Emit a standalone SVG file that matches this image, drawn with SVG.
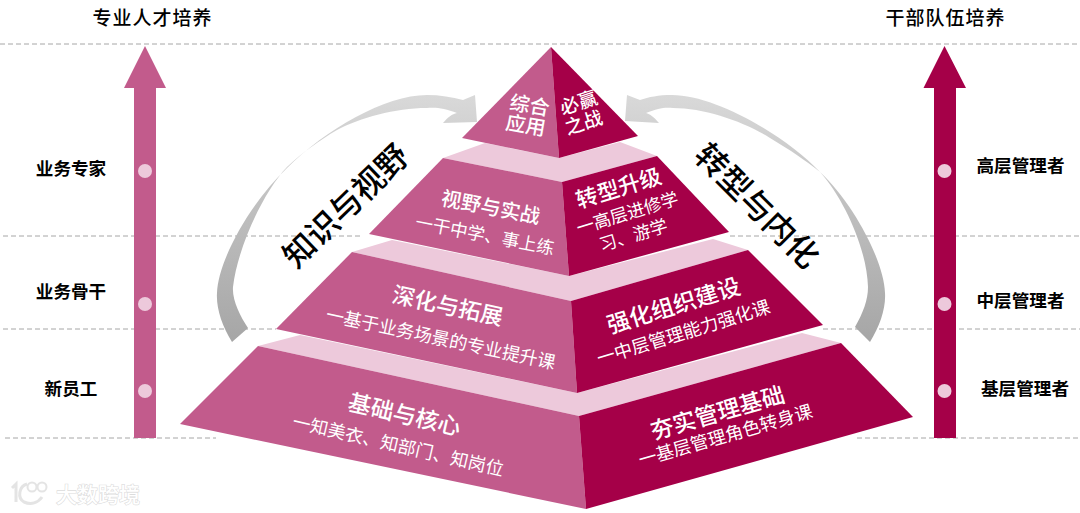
<svg xmlns="http://www.w3.org/2000/svg" width="1080" height="513" viewBox="0 0 1080 513">
<style>
text{font-family:"Noto Sans CJK SC","Liberation Sans",sans-serif;text-anchor:middle;dominant-baseline:central}
.dash{stroke:#a6a6a6;stroke-width:1;stroke-dasharray:5 3;fill:none}
.lf{fill:#c25b8c}.rf{fill:#a50048}.band{fill:#edc9db}.dot{fill:#edc9db}
.w{fill:#fff}.t1{font-size:19px;font-weight:500}.sub{font-size:17.6px}.sub2{font-size:18px}
.k{fill:#000}.head{font-size:19px;font-weight:500;letter-spacing:1px}.side{font-size:17.6px;font-weight:700}
.big{font-size:32px;fill:#000;font-weight:500}
.wm{font-size:21px;font-weight:500;fill:#fff;stroke:#dcdcdc;stroke-width:1.2;paint-order:stroke}
</style>
<defs>
<linearGradient id="gr" x1="0" y1="1" x2="0" y2="0"><stop offset="0" stop-color="#a6a6a6"/><stop offset=".5" stop-color="#bdbdbd"/><stop offset="1" stop-color="#d9d9d9"/></linearGradient>
</defs>
<rect width="1080" height="513" fill="#fff"/>
<g id="guides">
<path class="dash" d="M0 44H1080M3 236H360M730 236H1080M3 329H276M823 329H1080M5 438H216M857 438H1080"/>
</g>
<g id="connectors">
<path id="arc-left" fill="url(#gr)" d="M232 342C222 326 216 308 217 293C218 262 248 205 287 168C325 130 385 95 427 95C440 95 452 97 463 100L475 95L477 122L443 123C448 117 452 114 457 113C445 108 435 107 427 108C395 108 360 118 337 130C320 140 303 152 287 167C265 190 238 245 233 287C232 300 240 316 248 328Z"/>
<path id="arc-right" fill="url(#gr)" d="M870 342C880 326 886 308 885 293C884 262 855 205 820 172C785 135 715 95 672 95C658 95 649 97 640 100L627 95L625 121L659 123C654 117 650 114 646 113C658 108 665 107 673 108C705 108 745 122 770 138C790 150 805 160 820 172C845 200 867 250 868 287C868 300 863 313 855 327Z"/>
</g>
<g id="arrow-left"><path class="lf" d="M145 46L166 88H156V438H134V88H124Z"/><circle class="dot" cx="145" cy="171" r="7"/><circle class="dot" cx="145" cy="304" r="7"/><circle class="dot" cx="145" cy="391" r="7"/></g>
<g id="arrow-right"><path class="rf" d="M944.5 46L966 88H956V438H934V88H923.5Z"/><circle class="dot" cx="944.5" cy="171" r="7"/><circle class="dot" cx="944.5" cy="304" r="7"/><circle class="dot" cx="944.5" cy="391" r="7"/></g>
<g id="labels-left" class="k">
<text class="head" x="152.5" y="16">专业人才培养</text>
<text class="side" x="71" y="167.5">业务专家</text>
<text class="side" x="71" y="290.5">业务骨干</text>
<text class="side" x="71" y="387.5">新员工</text>
</g>
<g id="labels-right" class="k">
<text class="head" x="945.5" y="16">干部队伍培养</text>
<text class="side" x="1020.5" y="164.5">高层管理者</text>
<text class="side" x="1020.5" y="299.5">中层管理者</text>
<text class="side" x="1025" y="387.5">基层管理者</text>
</g>
<g id="bands">
<path class="band" d="M485 143L443 158L562 182L657 156L620 142L559 158Z"/>
<path class="band" d="M392 240L352 252L571 301L748 250L713 239L569 276Z"/>
<path class="band" d="M300 335L258 346L579 416L841 343L802 333L577 393Z"/>
</g>
<g id="tier-top">
<path class="lf" d="M551 47L462 138L559 158Z"/><path class="rf" d="M551 47L638 136L559 158Z"/>
<text class="w" font-size="20" font-weight="500" transform="translate(530 104) rotate(10)">综合</text>
<text class="w" font-size="20" font-weight="500" transform="translate(526 124) rotate(10)">应用</text>
<text class="w t1" transform="translate(578 101) rotate(-18)">必赢</text>
<text class="w t1" transform="translate(583 121) rotate(-18)">之战</text>
</g>
<g id="tier-2">
<path class="lf" d="M443 158L562 182L569 276L369 234Z"/><path class="rf" d="M562 182L657 156L729 232L569 276Z"/>
<text class="w" font-size="20" font-weight="500" transform="translate(491 206) rotate(11)">视野与实战</text>
<text class="w sub" transform="translate(485 234) rotate(11)">一干中学、事上练</text>
<text class="w" font-size="22" font-weight="500" transform="translate(618 186) rotate(-17)">转型升级</text>
<text class="w sub" transform="translate(627 212) rotate(-17)">一高层进修学</text>
<text class="w sub" transform="translate(633 234) rotate(-17)">习、游学</text>
</g>
<g id="tier-3">
<path class="lf" d="M352 252L571 301L577 393L276 329Z"/><path class="rf" d="M571 301L748 250L823 325L577 393Z"/>
<text class="w" font-size="22.5" font-weight="500" transform="translate(448 304) rotate(12)">深化与拓展</text>
<text class="w sub2" transform="translate(441 337) rotate(12)">一基于业务场景的专业提升课</text>
<text class="w" font-size="23" font-weight="500" transform="translate(673 304) rotate(-17)">强化组织建设</text>
<text class="w sub2" transform="translate(683 331) rotate(-17)">一中层管理能力强化课</text>
</g>
<g id="tier-4">
<path class="lf" d="M258 346L579 416L586 509L180 424Z"/><path class="rf" d="M579 416L841 343L913 417L586 509Z"/>
<text class="w" font-size="23" font-weight="500" transform="translate(405 413) rotate(13)">基础与核心</text>
<text class="w sub2" transform="translate(398.5 444) rotate(13)">一知美衣、知部门、知岗位</text>
<text class="w" font-size="23" font-weight="500" transform="translate(717 411) rotate(-16)">夯实管理基础</text>
<text class="w sub2" transform="translate(725 434) rotate(-16)">一基层管理角色转身课</text>
</g>
<g id="side-titles">
<text class="big" transform="translate(344 204) rotate(-44)">知识与视野</text>
<text class="big" transform="translate(759 204) rotate(45)">转型与内化</text>
</g>
<g id="watermark">
<path fill="none" stroke="#e4e4e4" stroke-width="3" d="M12 488L16 484V502M27 484C19 486 17 498 24 502C31 505 38 503 42 497"/>
<circle cx="32" cy="487" r="4.5" fill="none" stroke="#e4e4e4" stroke-width="2"/>
<circle cx="42" cy="487" r="4.5" fill="none" stroke="#e4e4e4" stroke-width="2"/>
<text class="wm" x="98" y="493">大数跨境</text>
</g>
</svg>
